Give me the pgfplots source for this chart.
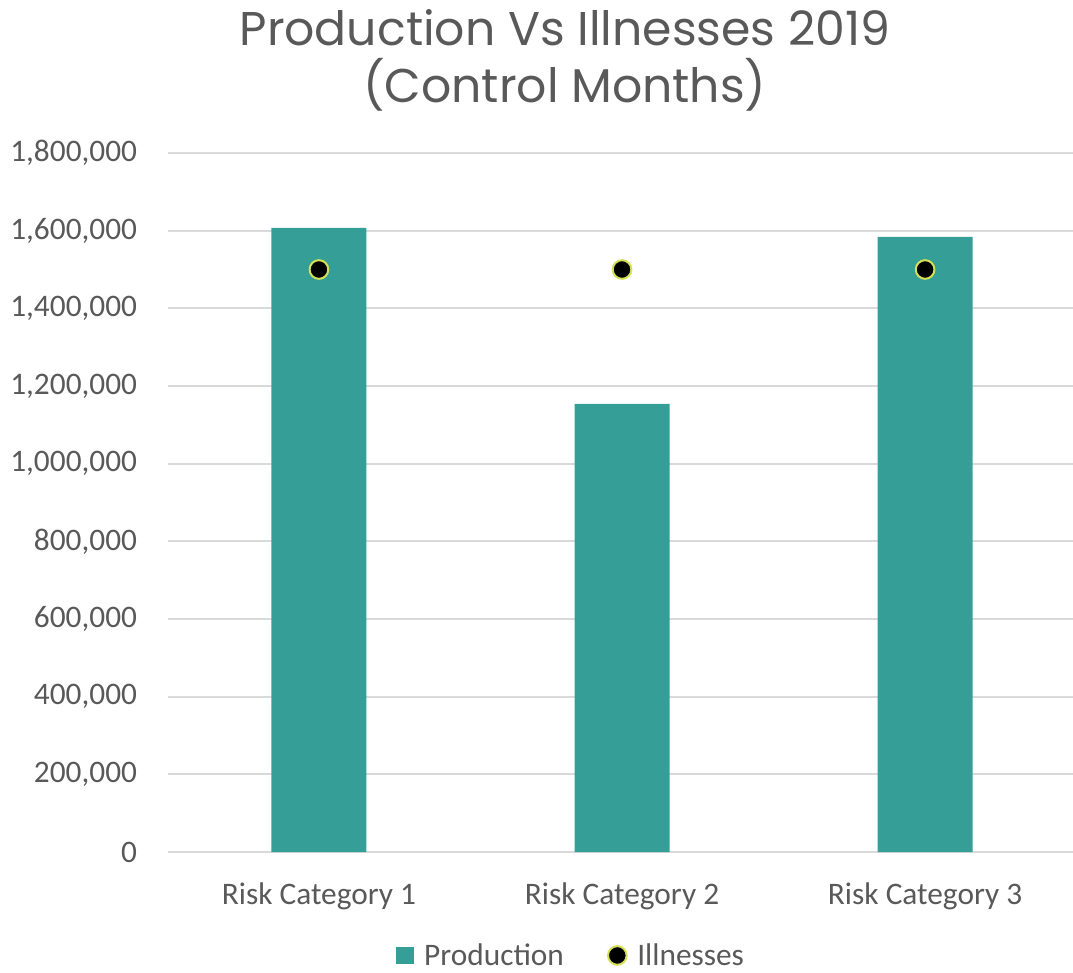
\documentclass[border=0pt]{standalone}
\usepackage{fontspec}
\setmainfont{Carlito}
\newfontfamily\titlefont{Poppins}
\usepackage{pgfplots}
\pgfplotsset{compat=1.18}
\definecolor{barc}{HTML}{359E96}
\definecolor{txt}{HTML}{595959}
\definecolor{grd}{HTML}{D9D9D9}
\definecolor{edgec}{HTML}{D4E157}
\begin{document}
\begin{tikzpicture}[x=1pt,y=1pt]
\useasboundingbox (-126,-90) rectangle (678.75,639);
\begin{axis}[
  at={(0,0)}, anchor=south west, scale only axis,
  width=678.75pt, height=524.25pt,
  xmin=-0.498, xmax=2.488, ymin=0, ymax=1800000,
  xtick={0,1,2},
  xticklabels={Risk Category 1, Risk Category 2, Risk Category 3},
  ytick={0,200000,400000,600000,800000,1000000,1200000,1400000,1600000,1800000},
  scaled y ticks=false,
  yticklabel style={/pgf/number format/fixed, /pgf/number format/1000 sep={,}, /pgf/number format/assume math mode=true},
  ticklabel style={font=\fontsize{23.5}{28}\selectfont, text=txt, inner sep=0pt},
  yticklabel style={anchor=east, xshift=-23pt},
  xticklabel style={anchor=north, yshift=-23pt},
  major tick length=0pt,
  axis line style={draw=none},
  ymajorgrids, grid style={grd, line width=1.5pt},
  clip=false,
  title={Production Vs Illnesses 2019\\(Control Months)},
  title style={at={(0.4385,1.121)}, anchor=center, align=center,
    font=\titlefont\fontsize{35.5}{43}\selectfont, text=txt},
  legend style={at={(0.4455,-0.148)}, anchor=center, draw=none, fill=none,
    legend columns=2, font=\fontsize{23.5}{28}\selectfont, text=txt,
    /tikz/every odd column/.append style={column sep=6pt},
    /tikz/every even column/.append style={column sep=31pt},
    legend cell align=left, inner sep=0pt},
]
\addplot[ybar, bar width=71.25pt, fill=barc, draw=none,
  legend image code/.code={\fill[barc] (0pt,-6.7pt) rectangle (13.4pt,6.7pt);}]
  coordinates {(0,1607000) (1,1154000) (2,1584000)};
\addlegendentry{Production}
\addplot[only marks, mark=*, mark size=7pt,
  mark options={fill=black, draw=edgec, line width=1.5pt}]
  coordinates {(0,1500000) (1,1500000) (2,1500000)};
\addlegendentry{Illnesses}
\end{axis}
\end{tikzpicture}
\end{document}
